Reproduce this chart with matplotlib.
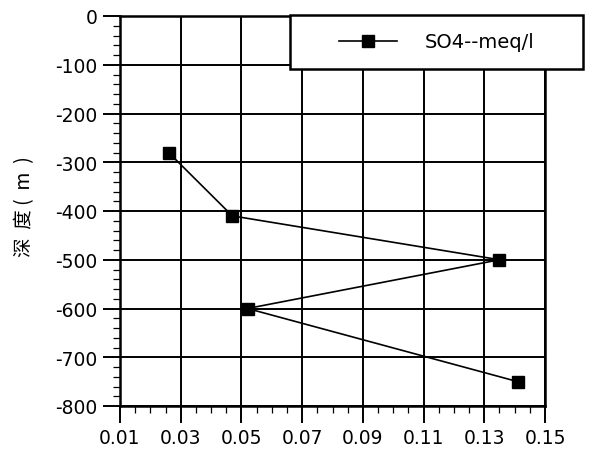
import matplotlib
matplotlib.use('Agg')
import matplotlib.pyplot as plt
from matplotlib.patches import Rectangle
from matplotlib.ticker import MultipleLocator

plt.rcParams['font.family'] = ['DejaVu Sans', 'Noto Sans CJK SC']
plt.rcParams['axes.unicode_minus'] = False

# data
so4 = [0.026, 0.047, 0.135, 0.052, 0.141]
depth = [-280, -410, -500, -600, -750]
series_name = 'SO4--meq/l'
x_ticks = [0.01, 0.03, 0.05, 0.07, 0.09, 0.11, 0.13, 0.15]
x_labels = ['0.01', '0.03', '0.05', '0.07', '0.09', '0.11', '0.13', '0.15']

fig = plt.figure(figsize=(5.95, 4.6), dpi=100)
ax = fig.add_axes([120 / 595, 1 - 407 / 460, 425 / 595, 390 / 460])

ax.plot(so4, depth, color='black', linewidth=1.2, marker='s', markersize=9,
        markerfacecolor='black', markeredgecolor='black', label=series_name, zorder=3)

ax.set_xlim(0.01, 0.15)
ax.set_ylim(-800, 0)
ax.set_xticks(x_ticks)
ax.set_xticklabels(x_labels)
ax.xaxis.set_minor_locator(MultipleLocator(0.005))
ax.yaxis.set_major_locator(MultipleLocator(100))
ax.yaxis.set_minor_locator(MultipleLocator(20))

ax.grid(True, which='major', color='black', linewidth=1.4)
ax.tick_params(which='major', direction='out', length=12, width=1.4,
               labelsize=13.5, colors='black', pad=4)
ax.tick_params(which='minor', direction='out', length=5, width=0.9)
for s in ax.spines.values():
    s.set_linewidth(1.8)

fig.text(25 / 595, 1 - 207 / 460, '深  度 (  m  )', rotation=90, fontsize=14,
         ha='center', va='center', family=['Noto Sans CJK SC', 'DejaVu Sans'])

# legend box sticks out past the right edge of the axes
box = (290 / 595, 1 - 70 / 460, 293 / 595, 54 / 460)
fig.patches.append(Rectangle(box[:2], box[2], box[3], transform=fig.transFigure,
                             facecolor='white', edgecolor='black', linewidth=1.8, zorder=5))
leg = fig.legend(loc='center', bbox_to_anchor=box, fontsize=14, frameon=False,
                 handlelength=3, handletextpad=1.4, borderaxespad=0)
leg.set_zorder(6)

fig.savefig('out.png', dpi=100)
